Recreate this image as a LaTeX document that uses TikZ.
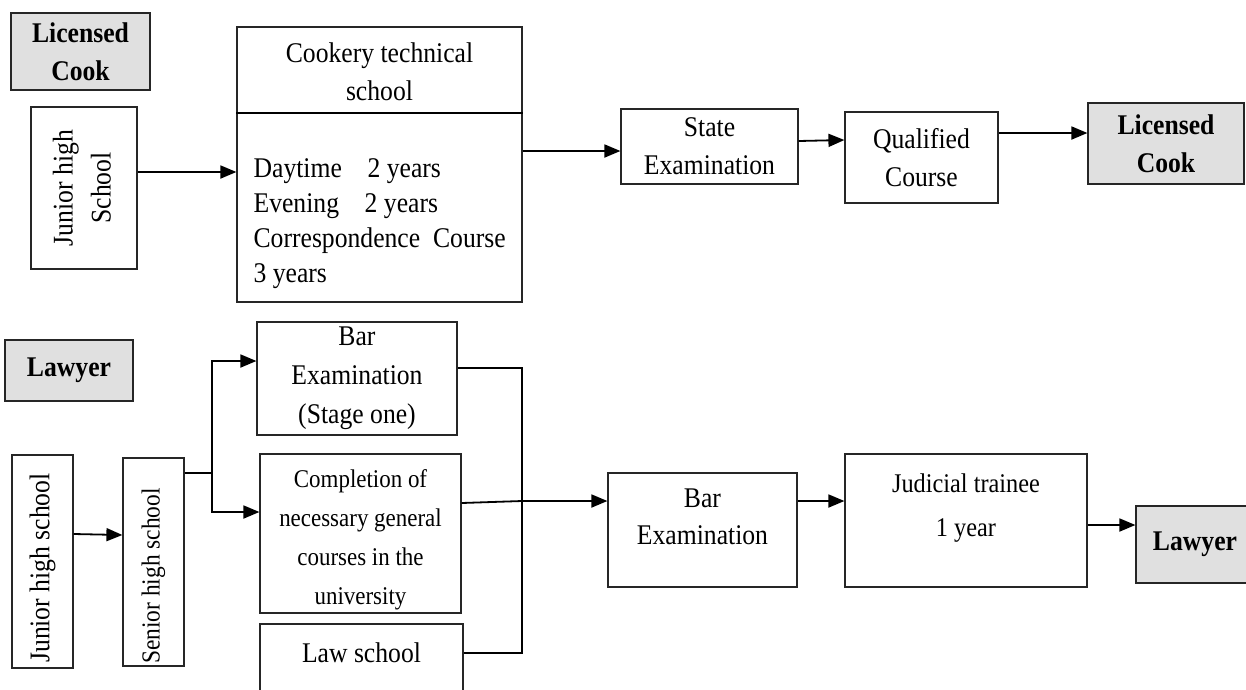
\documentclass[tikz,border=0pt]{standalone}
\usepackage{fontspec}
\setmainfont{Liberation Serif}[FakeStretch=0.9]
\usetikzlibrary{arrows.meta}

\begin{document}
\begin{tikzpicture}[
                x = 1pt, y = -1pt,
                > = {Triangle[length=16pt,width=13pt]},
                line width = 1.2pt,
                font = \fontsize{28.5}{38}\selectfont
                ]

                \tikzstyle{box}=[
                        draw = black!85,
                        rectangle,
                        inner sep = 0pt,
                        align = center
                ]
                \tikzstyle{goal}=[
                        box,
                        fill = black!12,
                        font = \fontsize{28.5}{38}\selectfont\bfseries
                ]
                \tikzstyle{link}=[
                        line width = 1.8pt
                ]

                \useasboundingbox (0,0) rectangle (1246,689);

                % licensed cook
                \node[goal, minimum width=139, minimum height=77] (cookLabel) at (80.5,51.5) {Licensed\\Cook};
                \node[box, minimum width=106, minimum height=162] (juniorA) at (84,188)
                        {\rotatebox{90}{\begin{tabular}{@{}c@{}}Junior high\\School\end{tabular}}};
                \node[box, minimum width=285, minimum height=275] (cookery) at (379.5,164.5) {};
                \draw (cookery.west |- 0,113) -- (cookery.east |- 0,113);
                \node[align=center] (cookTitle) at (379.5,72) {Cookery technical\\school};
                \node[anchor=west, align=left, inner sep=0pt, font=\fontsize{28.5}{35}\selectfont] (cookTerms) at (253,224)
                        {Daytime\hspace{0.9em}2 years\\Evening\hspace{0.9em}2 years\\Correspondence\hspace{0.45em}Course\\3 years};
                \node[box, minimum width=177, minimum height=75] (stateExam) at (709.5,146.5) {State\\Examination};
                \node[box, minimum width=153, minimum height=91] (qualified) at (921.5,157.5) {Qualified\\Course};
                \node[goal, minimum width=156, minimum height=81] (cookEnd) at (1166,143.5) {Licensed\\Cook};

                \draw[link, ->] (juniorA.east |- 0,172) -- (cookery.west |- 0,172);
                \draw[link, ->] (cookery.east |- 0,151) -- (stateExam.west |- 0,151);
                \draw[link, ->] (stateExam.east |- 0,141) -- (qualified.west |- 0,140);
                \draw[link, ->] (qualified.east |- 0,133) -- (cookEnd.west |- 0,133);

                % lawyer
                \node[goal, minimum width=128, minimum height=61] (lawyerLabel) at (69,370.5) {Lawyer};
                \node[box, minimum width=61, minimum height=213] (juniorB) at (42.5,561.5)
                        {\rotatebox{90}{Junior high school\hspace{13pt}}};
                \node[box, minimum width=61, minimum height=208, font=\fontsize{26}{38}\selectfont] (seniorB) at (153.5,562)
                        {\rotatebox{90}{Senior high school\hspace{28pt}}};
                \node[box, minimum width=200, minimum height=113, font=\fontsize{28.5}{39}\selectfont] (barOne) at (357,378.5)
                        {Bar\\Examination\\(Stage one)};
                \node[box, minimum width=201, minimum height=159, font=\fontsize{25.5}{39}\selectfont] (completion) at (360.5,533.5)
                        {\phantom{x}\\[-20pt]Completion of\\necessary general\\courses in the\\university};
                \node[box, minimum width=203, minimum height=96] (lawSchool) at (361.5,672)
                        {Law school\\\phantom{x}};
                \node[box, minimum width=189, minimum height=114, font=\fontsize{28.5}{37}\selectfont] (barExam) at (702.5,530)
                        {Bar\\Examination\\[-10pt]\phantom{x}};
                \node[box, minimum width=242, minimum height=133, font=\fontsize{27}{44}\selectfont] (judicial) at (966,520.5)
                        {Judicial trainee\\1 year\\[-13pt]\phantom{x}};
                \node[goal, minimum width=118, minimum height=77] (lawyerEnd) at (1195,544.5) {Lawyer};

                \coordinate (fork) at (212,473);
                \coordinate (merge) at (522,368);

                \draw[link, ->] (juniorB.east |- 0,534) -- (seniorB.west |- 0,535);
                \draw[link] (seniorB.east |- fork) -- (fork);
                \draw[link, ->] (fork) |- (barOne.west |- 0,361);
                \draw[link, ->] (fork) |- (completion.west |- 0,512);
                \draw (barOne.east |- merge) -- (merge) |- (lawSchool.east |- 0,653);
                \draw[link, ->] (completion.east |- 0,503) -- (merge |- 0,501) -- (barExam.west |- 0,501);
                \draw[link, ->] (barExam.east |- 0,501) -- (judicial.west |- 0,501);
                \draw[link, ->] (judicial.east |- 0,525) -- (lawyerEnd.west |- 0,525);
\end{tikzpicture}
\end{document}
